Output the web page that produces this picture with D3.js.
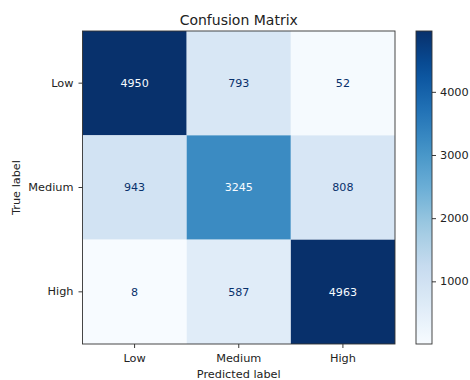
<!DOCTYPE html>
<html>
<head>
<meta charset="utf-8">
<script src="https://cdn.jsdelivr.net/npm/d3@7"></script>
<style>
  html, body { margin: 0; padding: 0; background: #fff; }
  svg { display: block; font-family: "DejaVu Sans", sans-serif; }
</style>
</head>
<body>
<svg id="chart" width="470" height="380"></svg>
<script>
// Class names (rows = true label, columns = predicted label)
const classes = ["Low", "Medium", "High"];
// Counts per true class, in predicted-class order
const rowLow = [4950, 793, 52];
const rowMedium = [943, 3245, 808];
const rowHigh = [8, 587, 4963];
const matrix = [rowLow, rowMedium, rowHigh];
const colorbarTicks = [1000, 2000, 3000, 4000];

const svg = d3.select("#chart");
const FS = 11.3;        // tick / label font size
const TITLE_FS = 14;    // title font size

// Plot region of the heatmap
const plot = { left: 82.5, top: 31, right: 395, bottom: 344 };
// Colorbar region
const cb = { left: 416, right: 432, top: 31, bottom: 344 };

const allValues = matrix.flat();
const vmin = d3.min(allValues), vmax = d3.max(allValues);

// Sequential "Blues" colormap: linear segments between the nine ColorBrewer stops
const bluesStops = ["#f7fbff", "#deebf7", "#c6dbef", "#9ecae1", "#6baed6",
                    "#4292c6", "#2171b5", "#08519c", "#08306b"];
const blues = d3.scaleLinear()
  .domain(bluesStops.map((_, i) => i / (bluesStops.length - 1)))
  .range(bluesStops)
  .interpolate(d3.interpolateRgb)
  .clamp(true);
const norm = d3.scaleLinear().domain([vmin, vmax]).range([0, 1]).clamp(true);
const color = v => blues(norm(v));

const x = d3.scaleBand().domain(classes).range([plot.left, plot.right]);
const y = d3.scaleBand().domain(classes).range([plot.top, plot.bottom]);

const cells = [];
matrix.forEach((row, i) => row.forEach((v, j) => cells.push({ t: classes[i], p: classes[j], v })));

// Heatmap cells
svg.append("g").selectAll("rect").data(cells).join("rect")
  .attr("x", d => x(d.p))
  .attr("y", d => y(d.t))
  .attr("width", x.bandwidth())
  .attr("height", y.bandwidth())
  .attr("fill", d => color(d.v));

// Cell annotations: light text on dark cells, dark text on light cells
const thresh = (vmin + vmax) / 2;
svg.append("g").selectAll("text").data(cells).join("text")
  .attr("x", d => x(d.p) + x.bandwidth() / 2)
  .attr("y", d => y(d.t) + y.bandwidth() / 2)
  .attr("dy", "0.36em")
  .attr("text-anchor", "middle")
  .attr("font-size", 11.1)
  .attr("fill", d => d.v < thresh ? blues(1) : blues(0))
  .text(d => d.v);

// Axes
const tickColor = "#222";
const xAxis = svg.append("g")
  .attr("transform", `translate(0,${plot.bottom})`)
  .call(d3.axisBottom(x).tickSize(4).tickPadding(6));
const yAxis = svg.append("g")
  .attr("transform", `translate(${plot.left},0)`)
  .call(d3.axisLeft(y).tickSize(4).tickPadding(5));
[xAxis, yAxis].forEach(a => {
  a.select(".domain").remove();
  a.selectAll(".tick line").attr("stroke", tickColor).attr("stroke-width", 0.9);
  a.selectAll(".tick text").attr("fill", tickColor).attr("font-size", FS)
    .attr("font-family", "DejaVu Sans, sans-serif");
});

// Frame around the heatmap
svg.append("rect")
  .attr("x", plot.left).attr("y", plot.top)
  .attr("width", plot.right - plot.left).attr("height", plot.bottom - plot.top)
  .attr("fill", "none").attr("stroke", "#333").attr("stroke-width", 0.9);

// Title and axis labels
svg.append("text")
  .attr("x", (plot.left + plot.right) / 2).attr("y", 24.5)
  .attr("text-anchor", "middle").attr("font-size", TITLE_FS).attr("fill", tickColor)
  .text("Confusion Matrix");
svg.append("text")
  .attr("x", (plot.left + plot.right) / 2).attr("y", 377.5)
  .attr("text-anchor", "middle").attr("font-size", FS).attr("fill", tickColor)
  .text("Predicted label");
svg.append("text")
  .attr("transform", `translate(19.5,${(plot.top + plot.bottom) / 2}) rotate(-90)`)
  .attr("text-anchor", "middle").attr("font-size", FS).attr("fill", tickColor)
  .text("True label");

// Colorbar gradient
const defs = svg.append("defs");
const grad = defs.append("linearGradient").attr("id", "cbgrad")
  .attr("x1", "0").attr("y1", "1").attr("x2", "0").attr("y2", "0");
d3.range(0, 1.0001, 0.05).forEach(t => {
  grad.append("stop").attr("offset", t).attr("stop-color", blues(t));
});
svg.append("rect")
  .attr("x", cb.left).attr("y", cb.top)
  .attr("width", cb.right - cb.left).attr("height", cb.bottom - cb.top)
  .attr("fill", "url(#cbgrad)")
  .attr("stroke", "#333").attr("stroke-width", 0.9);

const cbScale = d3.scaleLinear().domain([vmin, vmax]).range([cb.bottom, cb.top]);
const cbAxis = svg.append("g")
  .attr("transform", `translate(${cb.right},0)`)
  .call(d3.axisRight(cbScale).tickValues(colorbarTicks).tickSize(4).tickPadding(4).tickFormat(d3.format("d")));
cbAxis.select(".domain").remove();
cbAxis.selectAll(".tick line").attr("stroke", tickColor).attr("stroke-width", 0.9);
cbAxis.selectAll(".tick text").attr("fill", tickColor).attr("font-size", FS)
  .attr("font-family", "DejaVu Sans, sans-serif");
</script>
</body>
</html>
